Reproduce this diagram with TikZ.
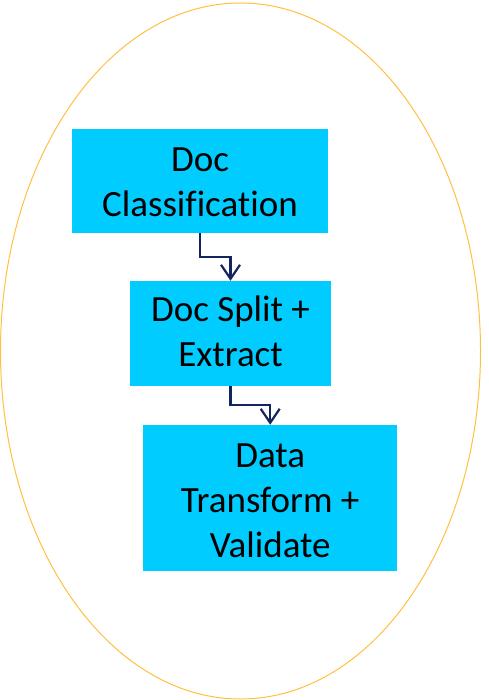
\documentclass[tikz,border=0pt]{standalone}
\usepackage{fontspec}
\setmainfont{Carlito}[Ligatures=NoCommon]
\usetikzlibrary{arrows.meta}
\definecolor{boxcyan}{HTML}{00CCFF}
\definecolor{connnavy}{HTML}{14245F}
\definecolor{ellgold}{HTML}{FFC040}
\tikzset{
  stepbox/.style={fill=boxcyan, draw=none, inner sep=0pt, align=center,
    font=\fontsize{37}{45}\selectfont, text=black},
  conn/.style={draw=connnavy, line width=2.2pt,
    -{Straight Barb[length=14pt,width=19pt]}},
  outline/.style={draw=ellgold, line width=1pt}
}
\begin{document}
\begin{tikzpicture}[x=1pt,y=-1pt]
\useasboundingbox (0,0) rectangle (488,700);
\draw[outline] (240.5,351) ellipse [x radius=240, y radius=348];
\node[stepbox, minimum width=256pt, minimum height=103.7pt, text height=71.2pt, text depth=0pt] (b1) at (200,181) {Doc\\Classification};
\node[stepbox, minimum width=201pt, minimum height=104.7pt, text height=70.6pt, text depth=3.4pt] (b2) at (230.5,333.3) {Doc Split +\\Extract};
\node[stepbox, minimum width=253.7pt, minimum height=145.7pt, text height=118.4pt, text depth=0pt] (b3) at (270.2,497.8) {Data\\Transform +\\Validate};
\draw[conn] (b1.south) -- ++(0,24) -| (b2.north);
\draw[conn] (b2.south) -- ++(0,19.5) -| (b3.north);
\end{tikzpicture}
\end{document}
